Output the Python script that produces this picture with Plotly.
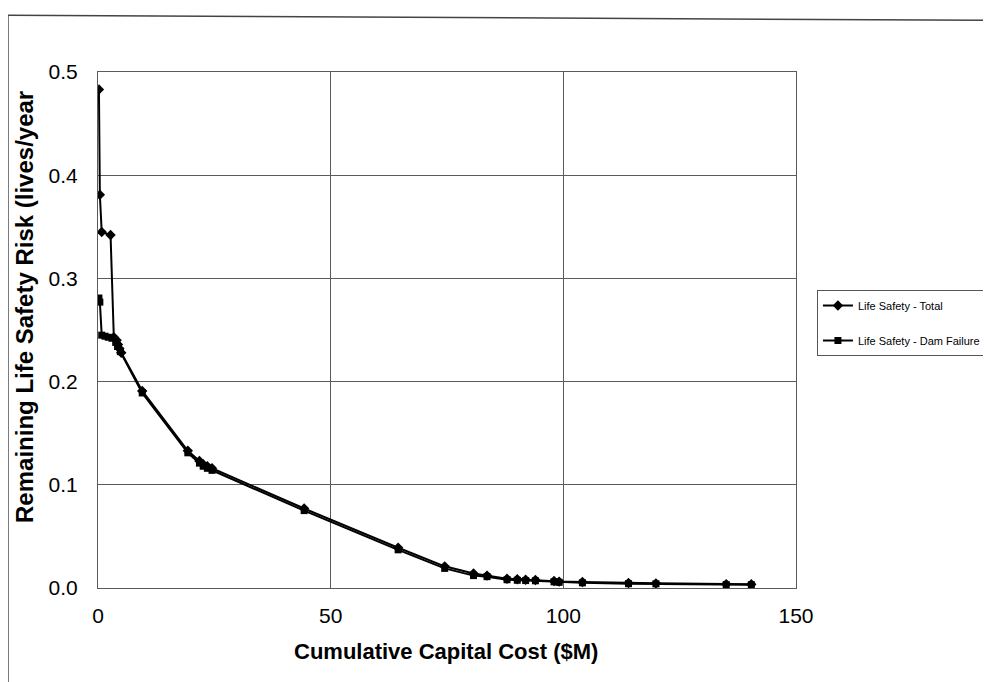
import plotly.graph_objects as go

# Data
total_x = [0.2, 0.4, 0.8, 2.7, 3.4, 4.0, 4.3, 4.6, 5.0, 9.5, 19.3, 21.8, 22.6, 23.5, 24.5,
           44.3, 64.5, 74.5, 80.7, 83.6, 87.9, 90.1, 91.9, 94.0, 98.0, 99.1, 104.1,
           114.0, 119.9, 135.0, 140.4]
total_y = [0.483, 0.381, 0.345, 0.342, 0.243, 0.240, 0.236, 0.232, 0.228, 0.191, 0.133,
           0.123, 0.120, 0.118, 0.116, 0.077, 0.039, 0.021, 0.014, 0.012, 0.009, 0.0085,
           0.008, 0.0078, 0.0068, 0.0062, 0.0058, 0.0048, 0.0045, 0.0038, 0.0036]

dam_x = [0.2, 0.4, 0.8, 1.5, 2.2, 3.0, 3.8, 4.2, 4.8, 9.5, 19.3, 21.8, 22.6, 23.5, 24.5,
         44.3, 64.5, 74.5, 80.7, 83.6, 87.9, 90.1, 91.9, 94.0, 98.0, 99.1, 104.1,
         114.0, 119.9, 135.0, 140.4]
dam_y = [0.281, 0.277, 0.245, 0.244, 0.243, 0.242, 0.238, 0.234, 0.229, 0.189, 0.131,
         0.121, 0.118, 0.116, 0.114, 0.075, 0.037, 0.019, 0.012, 0.011, 0.008, 0.0075,
         0.0072, 0.007, 0.006, 0.0055, 0.005, 0.0042, 0.004, 0.0033, 0.0032]

series_names = ["Life Safety - Total", "Life Safety - Dam Failure"]
x_title = "Cumulative Capital Cost ($M)"
y_title = "Remaining Life Safety Risk (lives/year"
x_ticks = [0, 50, 100, 150]
y_ticks = [0.0, 0.1, 0.2, 0.3, 0.4, 0.5]

FONT = "Liberation Sans"

fig = go.Figure()
fig.add_trace(go.Scatter(x=total_x, y=total_y, mode="lines+markers", name=series_names[0],
                         legendgroup="a",
                         line=dict(color="black", width=2),
                         marker=dict(symbol="diamond", size=8, color="black")))
fig.add_trace(go.Scatter(x=dam_x, y=dam_y, mode="lines+markers", name=series_names[1],
                         legendgroup="b",
                         line=dict(color="black", width=2),
                         marker=dict(symbol="square", size=7, color="black")))

axis_common = dict(showgrid=True, gridcolor="#5a5a5a", gridwidth=1,
                   showline=True, linecolor="#5a5a5a", linewidth=1, mirror=True,
                   zeroline=False, ticks="",
                   tickfont=dict(family=FONT, size=21, color="black"))

fig.update_xaxes(range=[0, 150], tickvals=x_ticks, ticktext=[str(v) for v in x_ticks],
                 ticklabelstandoff=9, **axis_common)
fig.update_yaxes(range=[0, 0.5], tickvals=y_ticks, ticktext=[f"{v:.1f}" for v in y_ticks],
                 ticklabelstandoff=15, **axis_common)

fig.update_layout(
    width=991, height=682, autosize=False,
    margin=dict(l=90, r=203, t=64, b=102),
    paper_bgcolor="white", plot_bgcolor="white",
    showlegend=True,
    legend=dict(x=1.03, y=0.5775, xanchor="left", yanchor="top",
                bordercolor="#555555", borderwidth=1, bgcolor="white",
                font=dict(family=FONT, size=11, color="black"),
                tracegroupgap=16, itemwidth=30),
    annotations=[
        dict(text=f"<b>{x_title}</b>", xref="paper", yref="paper", x=0.499, y=-0.124,
             xanchor="center", yanchor="middle", showarrow=False,
             font=dict(family=FONT, size=22, color="black")),
        dict(text=f"<b>{y_title}</b>", xref="paper", yref="paper", x=-0.1046, y=0.5446,
             xanchor="center", yanchor="middle", showarrow=False, textangle=-90,
             font=dict(family=FONT, size=24, color="black")),
    ],
    shapes=[
        dict(type="line", xref="paper", yref="paper", x0=-0.129, x1=-0.129, y0=-0.2, y1=1.11,
             line=dict(color="#444444", width=1.5)),
        dict(type="line", xref="paper", yref="paper", x0=-0.129, x1=1.28, y0=1.11, y1=1.1,
             line=dict(color="#444444", width=1.5)),
    ],
)

fig.write_html("out.html")
